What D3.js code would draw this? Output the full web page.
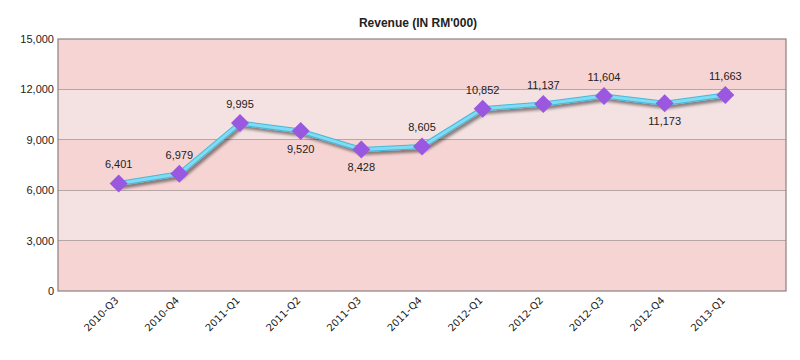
<!DOCTYPE html>
<html><head><meta charset="utf-8">
<script src="https://cdn.jsdelivr.net/npm/d3@7"></script>
<style>body{margin:0;background:#fff}svg{display:block}</style>
</head><body>
<svg id="c" width="800" height="360"></svg>
<script>
const categories = ["2010-Q3","2010-Q4","2011-Q1","2011-Q2","2011-Q3","2011-Q4","2012-Q1","2012-Q2","2012-Q3","2012-Q4","2013-Q1"];
const revenue = [6401,6979,9995,9520,8428,8605,10852,11137,11604,11173,11663];
const labelBelow = [false,false,false,true,true,false,false,false,false,true,false];
const yTicks = [0,3000,6000,9000,12000,15000];
const title = "Revenue (IN RM'000)";

const svg = d3.select("#c");
const m = {l:58, r:14, t:39, b:69};
const W = 800, H = 360;
const x = d3.scalePoint().domain(categories).range([m.l, W - m.r]).padding(1);
const y = d3.scaleLinear().domain([0,15000]).range([H - m.b, m.t]);

const defs = svg.append("defs");
const f = defs.append("filter").attr("id","sh").attr("x","-10%").attr("y","-30%").attr("width","130%").attr("height","180%");
f.append("feGaussianBlur").attr("in","SourceAlpha").attr("stdDeviation",1.5).attr("result","b");
f.append("feOffset").attr("in","b").attr("dx",2).attr("dy",3).attr("result","o");
f.append("feComponentTransfer").attr("in","o").attr("result","o2").append("feFuncA").attr("type","linear").attr("slope",0.45);
const mg = f.append("feMerge");
mg.append("feMergeNode").attr("in","o2");
mg.append("feMergeNode").attr("in","SourceGraphic");

// bands
const bands = d3.pairs(yTicks);
svg.append("g").selectAll("rect").data(bands).join("rect")
  .attr("x", m.l).attr("width", W - m.r - m.l)
  .attr("y", d => y(d[1])).attr("height", d => y(d[0]) - y(d[1]))
  .attr("fill", (d,i) => i % 2 === 0 ? "#f7d4d4" : "#f4e1e1");

// gridlines
svg.append("g").selectAll("line").data(yTicks.slice(1,-1)).join("line")
  .attr("x1", m.l).attr("x2", W - m.r)
  .attr("y1", d => y(d)).attr("y2", d => y(d))
  .attr("stroke", "#b8a6a6").attr("stroke-width", 1).attr("shape-rendering","crispEdges");

// border
svg.append("rect").attr("x", m.l).attr("y", m.t).attr("width", W - m.r - m.l).attr("height", y(0) - m.t)
  .attr("fill","none").attr("stroke","#8a8080").attr("stroke-width",1.2);

// y axis
const ya = svg.append("g").attr("transform", `translate(${m.l},0)`)
  .call(d3.axisLeft(y).tickValues(yTicks).tickSize(0).tickPadding(4).tickFormat(d3.format(",")));
ya.select(".domain").remove();
ya.selectAll("text").attr("font-family","Arial, Liberation Sans, sans-serif").attr("font-size",11).attr("fill","#222");

// x axis
const xa = svg.append("g").attr("transform", `translate(0,${y(0)})`)
  .call(d3.axisBottom(x).tickSize(0).tickPadding(0));
xa.select(".domain").remove();
xa.selectAll("text")
  .attr("font-family","Tahoma, DejaVu Sans, sans-serif").attr("font-size",10).attr("fill","#222")
  .attr("text-anchor","end").attr("dy",null).attr("y",0)
  .attr("transform","translate(0,10) rotate(-45)");

// title
svg.append("text").attr("x", 418).attr("y", 27).attr("text-anchor","middle")
  .attr("font-family","Arial, Liberation Sans, sans-serif").attr("font-size",12).attr("font-weight","bold").attr("fill","#222")
  .text(title);

// line
const line = d3.line().x((d,i) => x(categories[i])).y(d => y(d));
const lg = svg.append("g").attr("filter","url(#sh)");
lg.append("path").datum(revenue).attr("d", line).attr("fill","none")
  .attr("stroke","#48b8d8").attr("stroke-width",5).attr("stroke-linejoin","round");
lg.append("path").datum(revenue).attr("d", line).attr("fill","none")
  .attr("stroke","#7fdcf4").attr("stroke-width",3).attr("stroke-linejoin","round");

// markers
svg.append("g").selectAll("path").data(revenue).join("path")
  .attr("transform", (d,i) => `translate(${x(categories[i])},${y(d)})`)
  .attr("d", "M0,-9L9,0L0,9L-9,0Z")
  .attr("fill","#9a57e0");

// labels
svg.append("g").selectAll("text").data(revenue).join("text")
  .attr("x", (d,i) => x(categories[i]))
  .attr("y", (d,i) => y(d) + (labelBelow[i] ? 22 : -15))
  .attr("text-anchor","middle")
  .attr("font-family","Arial, Liberation Sans, sans-serif").attr("font-size",11).attr("fill","#222")
  .text(d => d3.format(",")(d));
</script>
</body></html>
